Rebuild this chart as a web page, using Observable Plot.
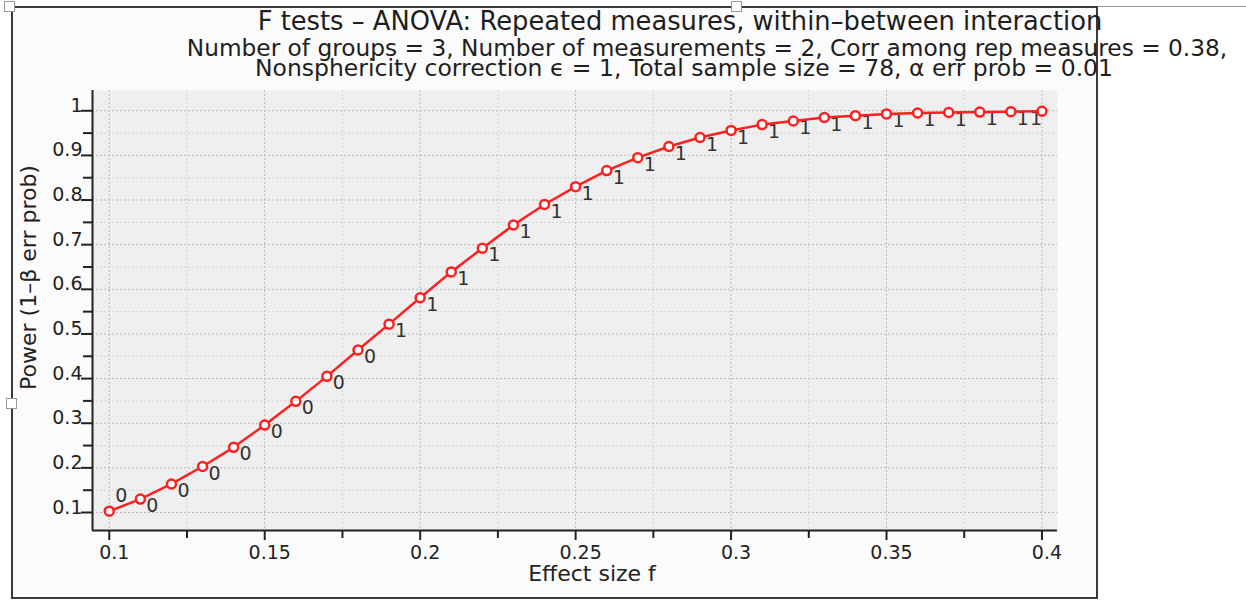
<!DOCTYPE html>
<html>
<head>
<meta charset="utf-8">
<script src="https://cdn.jsdelivr.net/npm/d3@7"></script>
<script src="https://cdn.jsdelivr.net/npm/@observablehq/plot@0.6"></script>
<style>
  html, body { margin: 0; padding: 0; background: #ffffff; }
  #stage { position: relative; width: 1246px; height: 602px; overflow: hidden;
           font-family: "DejaVu Sans", sans-serif; color: #222; }
  #box { position: absolute; left: 11px; top: 6px; width: 1083px; height: 589px;
         border: 2px solid #3a3a3a; background: #fbfbfb; }
  #topline { position: absolute; left: 1098px; top: 6px; width: 148px; height: 1px; background: #9a9a9a; }
  .handle { position: absolute; width: 9px; height: 9px; background: #fff; border: 1px solid #999; }
  #chart { position: absolute; left: 0; top: 0; }
  .head { position: absolute; white-space: nowrap; line-height: 1; color: #1e1e1e;
          transform: translateX(-50%); }
</style>
</head>
<body>
<div id="stage">
  <div id="box"></div>
  <div id="topline"></div>
  <div class="handle" style="left:4px;top:1px"></div>
  <div class="handle" style="left:731px;top:1px"></div>
  <div class="handle" style="left:6px;top:398px"></div>
  <div id="chart"></div>
</div>
<script>
// Power curve: F test, repeated measures ANOVA, within-between interaction
const effectSize = [0.10, 0.11, 0.12, 0.13, 0.14, 0.15, 0.16, 0.17, 0.18, 0.19, 0.20,
                    0.21, 0.22, 0.23, 0.24, 0.25, 0.26, 0.27, 0.28, 0.29, 0.30,
                    0.31, 0.32, 0.33, 0.34, 0.35, 0.36, 0.37, 0.38, 0.39, 0.40];
const power = [0.103, 0.130, 0.164, 0.203, 0.246, 0.296, 0.349, 0.405, 0.464, 0.522, 0.581,
               0.639, 0.692, 0.744, 0.790, 0.830, 0.866, 0.895, 0.920, 0.940, 0.956,
               0.969, 0.977, 0.985, 0.989, 0.993, 0.995, 0.996, 0.997, 0.998, 0.999];

const xTicks = [0.1, 0.15, 0.2, 0.25, 0.3, 0.35, 0.4];
const xTickLabels = ["0.1", "0.15", "0.2", "0.25", "0.3", "0.35", "0.4"];
const xMinorTicks = [0.125, 0.175, 0.225, 0.275, 0.325, 0.375];
const yTicks = [0.1, 0.2, 0.3, 0.4, 0.5, 0.6, 0.7, 0.8, 0.9, 1];
const yTickLabels = ["0.1", "0.2", "0.3", "0.4", "0.5", "0.6", "0.7", "0.8", "0.9", "1"];
const yMinorTicks = [0.15, 0.25, 0.35, 0.45, 0.55, 0.65, 0.75, 0.85, 0.95];

const titleText = "F tests – ANOVA: Repeated measures, within–between interaction";
const subtitleLines = [
  "Number of groups = 3, Number of measurements = 2, Corr among rep measures = 0.38,",
  "Nonsphericity correction ϵ = 1, Total sample size = 78, α err prob = 0.01"
];
const xLabel = "Effect size f";
const yLabel = "Power (1–β err prob)";

const rows = effectSize.map((f, i) => ({f, p: power[i], label: d3.format(".0f")(power[i])}));
const last = rows.length - 1;

const xDomain = [0.0946, 0.405];
const yDomain = [0.0597, 1.0454];
const red = "#ff1f1f";
const ink = "#222";
const fmtX = d => xTickLabels[xTicks.indexOf(d)];
const fmtY = d => yTickLabels[yTicks.indexOf(d)];
const gridMinor = {stroke: "#d4d4d4", strokeOpacity: 1, strokeDasharray: "2,2"};
const gridMajor = {stroke: "#b9b9b9", strokeOpacity: 1, strokeDasharray: "2,2"};

const chart = Plot.plot({
  width: 1246,
  height: 602,
  marginLeft: 92,
  marginRight: 189,
  marginTop: 90,
  marginBottom: 72,
  x: {domain: xDomain},
  y: {domain: yDomain},
  style: {background: "transparent", fontFamily: "'DejaVu Sans', sans-serif", fontSize: "19px", color: ink, overflow: "visible"},
  marks: [
    Plot.frame({fill: "#efefef", stroke: null}),
    Plot.gridX(xMinorTicks, gridMinor),
    Plot.gridX(xTicks, gridMajor),
    Plot.gridY(yMinorTicks, gridMinor),
    Plot.gridY(yTicks, gridMajor),

    // axis lines on the left and bottom only
    Plot.ruleX([xDomain[0]], {stroke: ink, strokeWidth: 2}),
    Plot.ruleY([yDomain[0]], {stroke: ink, strokeWidth: 2}),

    // x axis ticks and labels
    Plot.axisX(xMinorTicks, {tickSize: 8, stroke: ink, strokeWidth: 2, fill: "none", label: null}),
    Plot.axisX(xTicks, {tickSize: 10, stroke: ink, strokeWidth: 2, fill: "none", label: null}),
    Plot.axisX(xTicks, {tickSize: 10, tickPadding: 5, stroke: "none", fill: ink, dx: 5, tickFormat: fmtX, label: null}),

    // y axis ticks and labels
    Plot.axisY(yMinorTicks, {tickSize: 9, stroke: ink, strokeWidth: 2, fill: "none", label: null}),
    Plot.axisY(yTicks, {tickSize: 11, stroke: ink, strokeWidth: 2, fill: "none", label: null}),
    Plot.axisY(yTicks, {tickSize: 10, tickPadding: 0, stroke: "none", fill: ink, dy: -5, tickFormat: fmtY, label: null}),

    // axis titles
    Plot.text([xLabel], {text: d => d, frameAnchor: "bottom", textAnchor: "middle", lineAnchor: "middle",
                         dx: 17, dy: 43, fontSize: 22, fill: ink}),
    Plot.text([yLabel], {text: d => d, frameAnchor: "left", textAnchor: "middle", lineAnchor: "middle",
                         rotate: -90, dx: -64, dy: -33, fontSize: 22, fill: ink}),

    // rounded power next to each point
    Plot.text(rows.slice(0, 1), {x: "f", y: "p", text: "label", dx: 12, dy: -15, fill: "#333"}),
    Plot.text(rows.slice(1, last), {x: "f", y: "p", text: "label", dx: 12, dy: 7, fill: "#333"}),
    Plot.text(rows.slice(last), {x: "f", y: "p", text: "label", dx: -6, dy: 8, fill: "#333"}),

    // power curve
    Plot.line(rows, {x: "f", y: "p", stroke: red, strokeWidth: 2.5}),
    Plot.dot(rows, {x: "f", y: "p", r: 4.5, fill: "white", stroke: red, strokeWidth: 2.5})
  ]
});
document.getElementById("chart").appendChild(chart);

// Heading lines above the plot, each sized to its own span and centred on its own axis
const stage = document.getElementById("stage");
const ctx = document.createElement("canvas").getContext("2d");
const headFont = "'DejaVu Sans', sans-serif";
const heads = [
  {text: titleText,        span: 845,  center: 680, baseline: 31},
  {text: subtitleLines[0], span: 1041, center: 707, baseline: 56},
  {text: subtitleLines[1], span: 858,  center: 684, baseline: 77}
];
for (const h of heads) {
  ctx.font = `20px ${headFont}`;
  const fs = 20 * h.span / ctx.measureText(h.text).width;
  const el = document.createElement("div");
  el.className = "head";
  el.textContent = h.text;
  el.style.fontFamily = headFont;
  el.style.fontSize = fs.toFixed(2) + "px";
  el.style.left = h.center + "px";
  el.style.top = (h.baseline - 0.846 * fs).toFixed(1) + "px";
  stage.appendChild(el);
}
</script>
</body>
</html>
